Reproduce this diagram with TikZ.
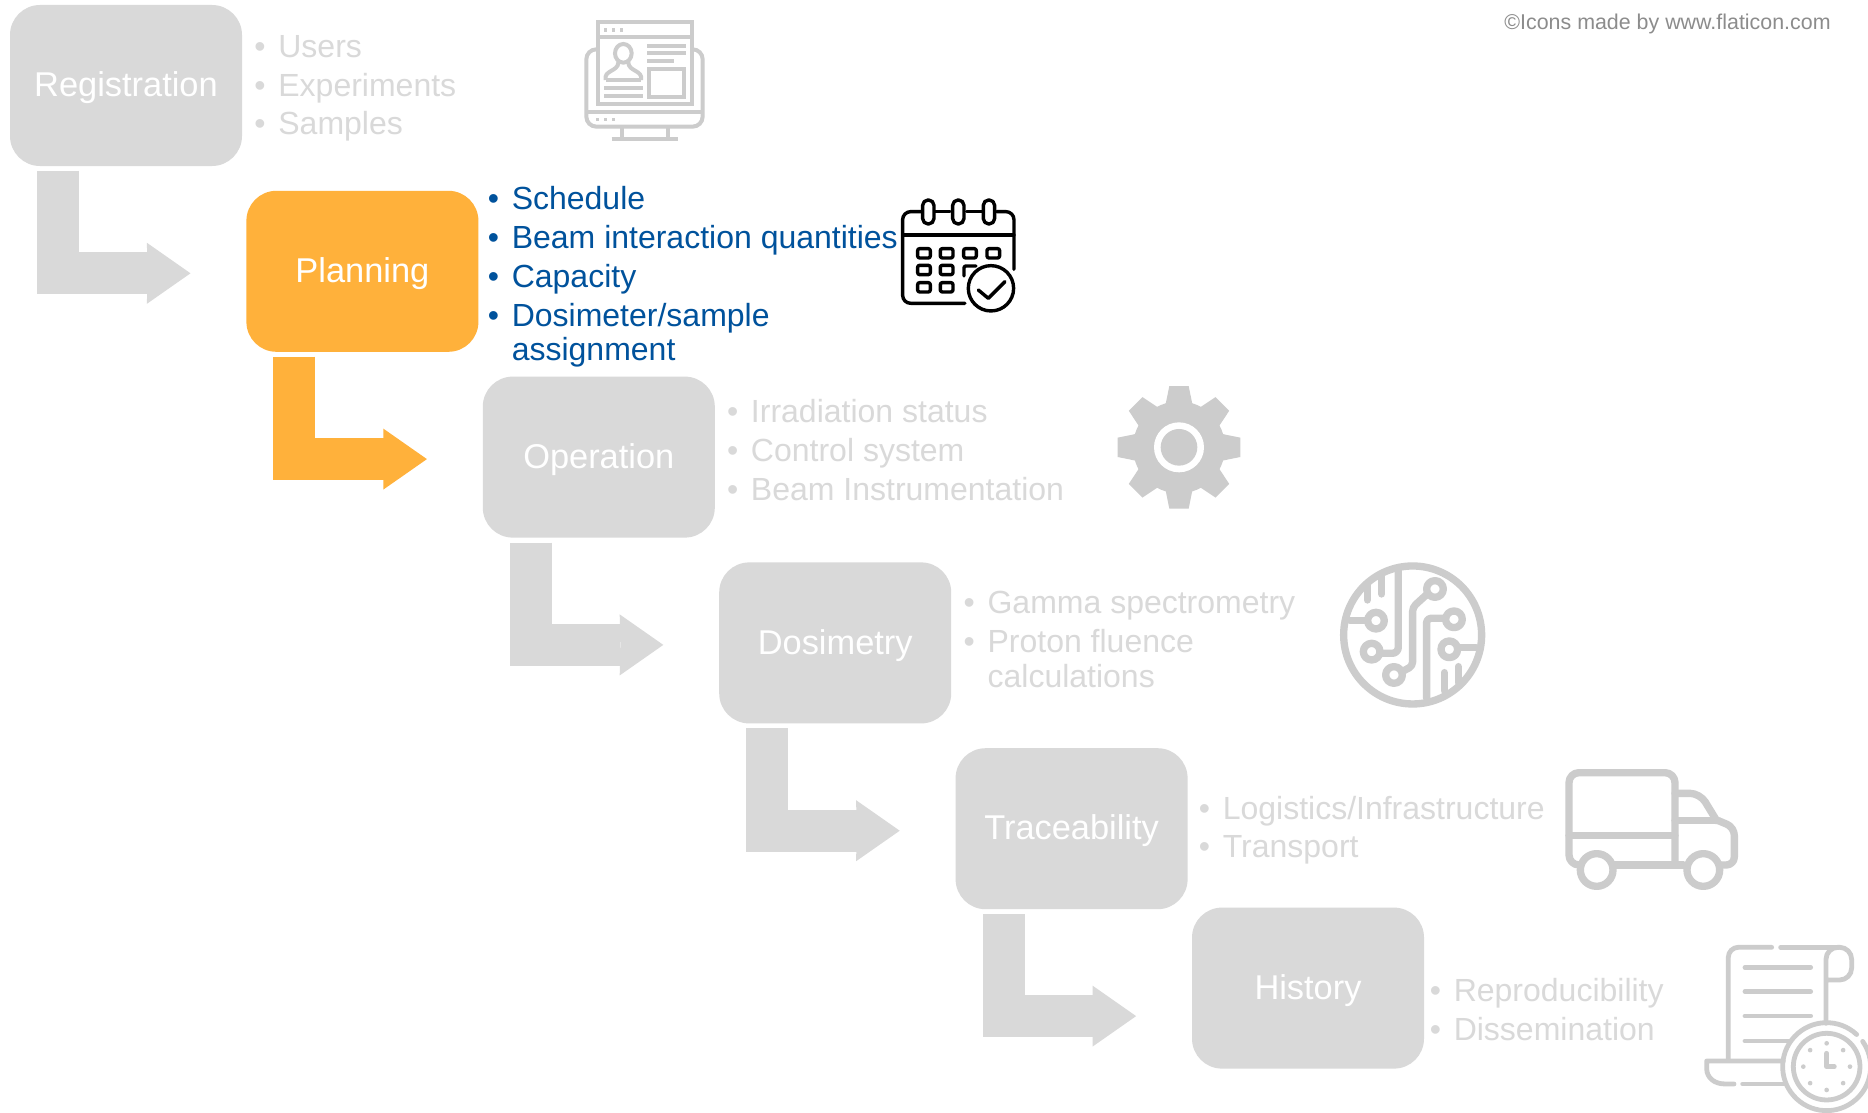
\documentclass[tikz,border=0pt]{standalone}
\usepackage{fontspec}
\setmainfont{Liberation Sans}
\usetikzlibrary{arrows.meta, calc, positioning}
\definecolor{boxgrey}{HTML}{D9D9D9}
\definecolor{icongrey}{HTML}{CCCCCC}
\definecolor{activeorange}{HTML}{FFB13B}
\definecolor{activeblue}{HTML}{00529C}
\definecolor{creditgrey}{HTML}{8C8C8C}
\newcommand{\bul}{\makebox[12pt][l]{•}}
\tikzstyle{stage} = [rectangle, rounded corners=15pt, minimum width=116pt, minimum height=80.5pt, inner sep=0pt, text=white, fill=boxgrey, text height=14.8pt, text depth=3.6pt, font=\fontsize{17.2}{20}\selectfont]
\tikzstyle{stageactive} = [stage, fill=activeorange]
\tikzstyle{items} = [inner sep=0pt, align=left, text=boxgrey, font=\fontsize{16}{17.3}\selectfont]
\tikzstyle{itemsactive} = [items, text=activeblue]
\tikzstyle{arrow} = [line width=21pt, draw=boxgrey, -{Stealth[length=21.8pt, width=30.5pt, inset=0.3pt, line width=0pt]}]
\tikzstyle{arrowactive} = [arrow, draw=activeorange]
\tikzstyle{icon} = [draw=icongrey, line cap=round, line join=round]
\begin{document}
\begin{tikzpicture}[x=0.5pt, y=-0.5pt]
		\useasboundingbox [fill=white] (0,0) rectangle (1868,1113);

		\node (Registration) [stage] at (126,85.5) {Registration};
		\node (Planning) [stageactive, below right = 12pt and 1.8pt of Registration] {Planning};
		\node (Operation) [stage, below right = 12pt and 1.8pt of Planning] {Operation};
		\node (Dosimetry) [stage, below right = 12pt and 1.8pt of Operation] {Dosimetry};
		\node (Traceability) [stage, below right = 12pt and 1.8pt of Dosimetry] {Traceability};
		\node (History) [stage, below right = -1.2pt and 1.8pt of Traceability] {History};

		\node (RegistrationList) [items, right = 5.8pt of Registration, yshift=-1.5pt] {\bul Users\\[2pt]\bul Experiments\\[2pt]\bul Samples};
		\node (PlanningList) [itemsactive, right = 4.3pt of Planning, yshift=-2.8pt] {\bul Schedule\\[2.2pt]\bul Beam interaction quantities\\[2.2pt]\bul Capacity\\[2.2pt]\bul Dosimeter/sample\\\hspace*{12pt}assignment};
		\node (OperationList) [items, right = 5.7pt of Operation, yshift=3.4pt] {\bul Irradiation status\\[2.2pt]\bul Control system\\[2.2pt]\bul Beam Instrumentation};
		\node (DosimetryList) [items, right = 5.8pt of Dosimetry, yshift=1.8pt] {\bul Gamma spectrometry\\[2.2pt]\bul Proton fluence\\\hspace*{12pt}calculations};
		\node (TraceabilityList) [items, right = 5.2pt of Traceability, yshift=-0.8pt] {\bul Logistics/Infrastructure\\[2pt]\bul Transport};
		\node (HistoryList) [items, right = 2.5pt of History, yshift=-10.7pt] {\bul Reproducibility\\[2.2pt]\bul Dissemination};

		\node (Credit) [anchor=east, inner sep=0pt, text=creditgrey, font=\fontsize{10.7}{12}\selectfont] at (1831,24) {©Icons made by www.flaticon.com};

		\draw [arrow] ($(Registration.south)+(-68,4.5)$) |- ($(Planning.west)+(-55.5,2)$);
		\draw [arrowactive] ($(Planning.south)+(-68,4.5)$) |- ($(Operation.west)+(-55.5,2)$);
		\draw [arrow] ($(Operation.south)+(-68,4.5)$) |- ($(Dosimetry.west)+(-55.5,2)$);
		\draw [arrow] ($(Dosimetry.south)+(-68,4.5)$) |- ($(Traceability.west)+(-55.5,2)$);
		\draw [arrow] ($(Traceability.south)+(-68,4.5)$) |- ($(History.west)+(-55.5,28)$);

		% monitor
		\begin{scope}[shift={(560,0)}, scale=0.3333, icon, line width=2pt, line cap=butt, line join=miter]
			\draw (113,66) rectangle (395,313);
			\draw (113,110) -- (395,110);
			\draw [rounded corners=5pt] (108,148) -- (79,148) -- (79,380) -- (428,380) -- (428,148) -- (400,148);
			\draw (79,336) -- (428,336);
			\draw (185,385) -- (185,416) (325,385) -- (325,416) (155,416) -- (354,416);
			\draw (190,160) ellipse (25 and 28);
			\draw (137,240) .. controls (130,210) and (175,215) .. (175,187);
			\draw (243,240) .. controls (250,210) and (205,215) .. (205,187);
			\draw (137,240) -- (243,240);
			\draw (132,265) -- (248,265) (132,288) -- (248,288);
			\draw (262,137) -- (378,137) (262,159) -- (378,159) (262,183) -- (342,183);
			\draw (267,208) rectangle (373,290);
			\foreach \x in {137,160,185} \fill [icongrey] (\x-5,85) rectangle (\x+5,95);
			\foreach \x in {113,136,160} \fill [icongrey] (\x-5,354) rectangle (\x+5,364);
		\end{scope}

		% calendar
		\begin{scope}[shift={(560,0)}, scale=0.3333, line width=1.7pt, line cap=round, line join=round]
			\draw [rounded corners=4pt] (1215,910) -| (1028,635) -- (1085,635);
			\draw [rounded corners=4pt] (1310,635) -| (1362,808);
			\draw (1125,635) -- (1170,635) (1220,635) -- (1265,635);
			\draw (1030,705) -- (1362,705);
			\foreach \x in {1105,1195,1287} \draw [rounded corners=2.7pt] (\x-17,600) rectangle (\x+17,672);
			\foreach \x/\y in {1092/760,1160/760,1230/760,1300/760,1092/810,1160/810,1092/862,1160/862}
				\draw [rounded corners=1pt] (\x-19,\y-14) rectangle (\x+19,\y+14);
			\draw [rounded corners=1pt] (1212,828) -- (1212,798) -- (1248,798);
			\draw (1293,865) circle (68);
			\draw (1255,870) -- (1285,895) -- (1335,845);
		\end{scope}

		% gear
		\begin{scope}[shift={(1080,360)}, scale=0.3333]
			\fill [icongrey] (297,262) circle (138);
			\foreach \a in {0,45,...,315}
				\fill [icongrey, shift={(297,262)}, rotate=\a] (-42,-120) -- (-29,-184) -- (29,-184) -- (42,-120) -- cycle;
			\fill [white] (297,262) circle (75);
			\fill [icongrey] (297,262) circle (55);
		\end{scope}

		% circuit
		\begin{scope}[shift={(1080,360)}, scale=0.3333, icon, line width=3.67pt]
			\draw (998,825) circle (207);
			\draw [rounded corners=3pt] (955,630) -- (955,880) -- (905,880);
			\draw (905,650) -- (905,702) (862,672) -- (862,720);
			\draw (810,782) -- (860,782);
			\draw [rounded corners=2pt] (1042,702) -- (998,742) -- (998,918) -- (966,935);
			\draw [rounded corners=2pt] (1096,775) -- (1040,775) -- (1040,1015);
			\draw (1136,862) -- (1188,862);
			\draw (1093,938) -- (1093,992) (1135,920) -- (1135,968);
			\foreach \x/\y in {888/782,875/875,1065/687,942/945,1122/778,1108/868}
				\draw (\x,\y) circle (25);
		\end{scope}

		% truck
		\begin{scope}[shift={(1500,740)}, scale=0.3333, icon, line width=3.67pt]
			\draw [rounded corners=5pt] (240,375) -- (207,375) -- (207,98) -- (525,98) -- (525,375);
			\draw (345,375) -- (550,375) (207,287) -- (525,287);
			\draw [rounded corners=5pt] (525,160) -- (600,160) -- (650,242);
			\draw (525,242) -- (655,242);
			\draw [rounded corners=4pt] (655,242) -- (703,262) -- (703,375) -- (665,375);
			\draw (290,390) circle (49) (610,390) circle (49);
		\end{scope}

		% scroll with clock
		\begin{scope}[shift={(1500,740)}, scale=0.3333, icon, line width=2.4pt]
			\clip (0,0) rectangle (1104,1119);
			\draw [rounded corners=5pt] (685,960) -- (685,622) -- (815,622);
			\draw (842,622) -- (1015,622);
			\draw [rounded corners=6pt] (978,850) -- (978,622) -- (1055,622) -- (1055,720) -- (985,720);
			\draw (735,682) -- (932,682) (735,755) -- (932,755) (735,828) -- (932,828) (735,903) -- (870,903);
			\draw (850,963) -- (620,963) -- (620,985) .. controls (620,1015) and (645,1032) .. (675,1032) -- (702,1032);
			\draw (728,1032) -- (855,1032);
			\draw (1070,883.5) arc (-47:-395:132);
			\draw (980,980) circle (100);
			\draw (980,940) -- (980,980) -- (1003,980);
			\foreach \a in {0,45,...,315} \fill [icongrey] (980,980) ++(\a:70) circle (7);
		\end{scope}
	\end{tikzpicture}
\end{document}
